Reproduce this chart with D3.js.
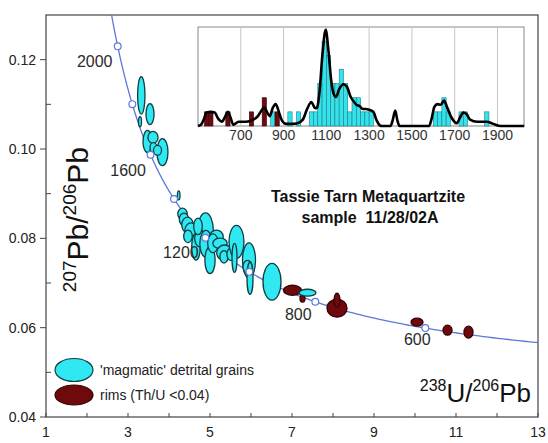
<!DOCTYPE html>
<html><head><meta charset="utf-8">
<script src="https://cdn.jsdelivr.net/npm/d3@7"></script>
<style>body{margin:0;background:#fff}svg{display:block}text{font-family:"Liberation Sans",Arial,sans-serif}</style>
</head><body><svg id="c" width="548" height="443"></svg>
<script>
// ---- data ----
const xTicks = [1,2,3,4,5,6,7,8,9,10,11,12,13];
const xTickLabels = [1,3,5,7,9,11,13];
const yTicks = [0.04,0.05,0.06,0.07,0.08,0.09,0.10,0.11,0.12];
const yTickLabels = [0.04,0.06,0.08,0.10,0.12];
const markerAges = [600,800,1000,1200,1400,1600,1800,2000];
const labelAges = [600,800,1200,1600,2000];
// magmatic detrital grains: [238U/206Pb, 207Pb/206Pb, semi-axis x, semi-axis y]
const magmatic = [
 [3.324,0.1120,0.090,0.00418],[3.537,0.1078,0.098,0.00235],[3.293,0.1061,0.037,0.00112],
 [3.476,0.1017,0.110,0.00246],[3.610,0.1026,0.122,0.00134],[3.841,0.0993,0.134,0.00302],
 [3.622,0.1003,0.085,0.00112],[3.720,0.0997,0.098,0.00112],[4.237,0.0896,0.032,0.00101],
 [4.329,0.08548,0.115,0.00128],[4.366,0.08425,0.115,0.00140],[4.451,0.08302,0.140,0.00175],
 [4.537,0.08179,0.150,0.00165],[4.890,0.08179,0.190,0.0039],[4.659,0.07810,0.105,0.0030],
 [4.756,0.08000,0.130,0.00190],[4.902,0.07877,0.150,0.0030],[5.000,0.07508,0.125,0.0030],
 [5.159,0.08034,0.165,0.00150],[5.073,0.07888,0.130,0.00210],[5.244,0.07888,0.175,0.00118],
 [4.463,0.08045,0.105,0.00140],[4.707,0.08268,0.105,0.00185],
 [5.354,0.07676,0.190,0.00175],[5.341,0.07587,0.100,0.00140],[5.512,0.07642,0.100,0.00140],
 [5.646,0.07922,0.183,0.00369],[5.598,0.07564,0.061,0.00324],[5.951,0.07508,0.159,0.00391],
 [5.915,0.07363,0.110,0.00145],[5.976,0.07106,0.073,0.00358],[6.512,0.07028,0.220,0.00413],
 [7.378,0.06782,0.207,0.00078]
];
// metamorphic rims (Th/U < 0.04)
const rims = [
 [7.012,0.06838,0.220,0.00112],[7.256,0.06648,0.061,0.00078],[8.098,0.06436,0.244,0.00201],
 [8.098,0.06615,0.073,0.00156],[10.049,0.06123,0.146,0.00089],[10.793,0.05944,0.110,0.00112],
 [11.305,0.05899,0.110,0.00134]
];
// inset histogram (bin start age, count), 20 Ma bins
const histMagmatic = [[840,1],[920,1],[960,1],[1020,1],[1040,1],[1060,3],[1080,6],[1100,5],[1120,3],[1140,3],[1160,4],[1180,3],[1200,1],[1220,2],[1240,2],[1260,1],[1280,1],[1300,1],[1600,1],[1620,1],[1640,2],[1660,1],[1720,1],[1740,1],[1840,1]];
const histRims = [[530,1],[550,1],[630,1],[740,1],[800,2],[860,1]];
// probability density curve (age, relative probability)
const probCurve = [[500,0],[515,0.1],[528,0.5],[540,0.95],[560,1.0],[578,0.95],[595,0.5],[612,0.3],[628,0.7],[640,1.0],[652,0.6],[665,0.1],[690,0.3],[720,0.3],[750,0.4],[780,0.7],[797,1.1],[810,1.3],[822,1.0],[835,0.7],[850,1.3],[863,1.55],[878,1.0],[892,0.4],[912,0.15],[940,0.15],[965,0.2],[990,0.45],[1010,1.2],[1030,1.7],[1045,1.3],[1055,1.25],[1068,2.4],[1082,5.1],[1097,6.8],[1110,5.3],[1122,3.3],[1132,2.4],[1145,2.05],[1160,2.6],[1180,2.95],[1195,2.8],[1214,2.05],[1230,1.7],[1240,1.5],[1256,1.4],[1270,1.2],[1285,1.2],[1300,1.15],[1320,1.0],[1335,0.4],[1350,0.05],[1360,0],[1400,0],[1410,0.4],[1422,1.1],[1432,0.4],[1442,0],[1580,0],[1592,0.5],[1605,1.35],[1620,1.55],[1635,1.5],[1650,1.8],[1665,1.3],[1685,0.6],[1710,0.2],[1725,0.6],[1740,0.95],[1755,0.85],[1772,0.45],[1805,0.3],[1850,0.3],[1880,0.15],[1915,0],[2025,0]];
const insetTicks = [700,900,1100,1300,1500,1700,1900];
const binWidth = 20;
// decay constants
const L238 = 1.55125e-10, L235 = 9.8485e-10, U85 = 137.88;

// ---- drawing ----
const svg = d3.select('#c');
const x = d3.scaleLinear().domain([1,13]).range([46,538]);
const y = d3.scaleLinear().domain([0.04,0.13]).range([417,15]);
const tw = t => { const a = Math.exp(L238*t*1e6)-1, b = Math.exp(L235*t*1e6)-1; return [1/a, b/a/U85]; };

svg.append('clipPath').attr('id','pc').append('rect')
  .attr('x',46).attr('y',15).attr('width',492).attr('height',402);

// frame
svg.append('rect').attr('x',46).attr('y',15).attr('width',492).attr('height',402)
  .attr('fill','none').attr('stroke','#444').attr('stroke-width',1.2);

// y ticks
yTicks.forEach(v=>{
  const major = yTickLabels.some(l=>Math.abs(l-v)<1e-9);
  svg.append('line').attr('x1',major?40:46).attr('x2',major?46:51)
    .attr('y1',y(v)).attr('y2',y(v)).attr('stroke','#444').attr('stroke-width',1);
  if(major) svg.append('text').attr('x',36).attr('y',y(v)+5).attr('text-anchor','end')
    .attr('font-size',14).attr('fill','#222').text(d3.format('.2f')(v));
});
xTicks.forEach(v=>{
  svg.append('line').attr('x1',x(v)).attr('x2',x(v)).attr('y1',417).attr('y2',413)
    .attr('stroke','#444').attr('stroke-width',1);
  if(xTickLabels.includes(v)) svg.append('text').attr('x',x(v)).attr('y',437)
    .attr('text-anchor','middle').attr('font-size',14).attr('fill','#222').text(v);
});

// concordia
const ages = d3.range(470,2200,5);
const line = d3.line().x(d=>x(tw(d)[0])).y(d=>y(tw(d)[1])).curve(d3.curveLinear);
const gp = svg.append('g').attr('clip-path','url(#pc)');
gp.append('path').attr('d',line(ages)).attr('fill','none').attr('stroke','#5b78db').attr('stroke-width',1.3);

// age labels (drawn under ellipses)
const labOff = {2000:[-23,20.5],1600:[-22.5,21.5],1200:[-24.5,20],800:[-17,18],600:[-8,16.5]};
labelAges.forEach(a=>{
  const p = tw(a);
  svg.append('text').attr('x',x(p[0])+labOff[a][0]).attr('y',y(p[1])+labOff[a][1])
    .attr('text-anchor','middle').attr('font-size',16).attr('fill','#2a2a2a').text(a);
});

function ell(g, d, fill, stroke){
  g.selectAll(null).data(d).enter().append('ellipse')
    .attr('cx',e=>x(e[0])).attr('cy',e=>y(e[1]))
    .attr('rx',e=>x(e[0]+e[2])-x(e[0])).attr('ry',e=>y(e[1])-y(e[1]+e[3]))
    .attr('fill',fill).attr('stroke',stroke).attr('stroke-width',1.3);
}
ell(gp, rims, '#6e0a0c', '#360204');
ell(gp, magmatic, '#2fe8f2', '#0e3f42');

// markers
markerAges.forEach(a=>{
  const p = tw(a);
  gp.append('circle').attr('cx',x(p[0])).attr('cy',y(p[1])).attr('r',3.4)
    .attr('fill','#fff').attr('stroke','#5b78db').attr('stroke-width',1.2);
});

// title
svg.append('text').attr('x',368).attr('y',202).attr('text-anchor','middle').attr('font-size',16)
  .attr('font-weight','bold').attr('fill','#111').text('Tassie Tarn Metaquartzite');
svg.append('text').attr('x',370).attr('y',223).attr('text-anchor','middle').attr('font-size',16)
  .attr('font-weight','bold').attr('fill','#111').attr('xml:space','preserve').text('sample  11/28/02A');

// axis labels
const yl = svg.append('text').attr('transform','translate(88,147) rotate(-90)')
  .attr('text-anchor','end').attr('fill','#111');
yl.append('tspan').attr('font-size',19).attr('dy',-12).text('207');
yl.append('tspan').attr('font-size',30).attr('dy',12).text('Pb/');
yl.append('tspan').attr('font-size',19).attr('dy',-12).text('206');
yl.append('tspan').attr('font-size',30).attr('dy',12).text('Pb');

const xl = svg.append('text').attr('x',531).attr('y',402).attr('text-anchor','end').attr('fill','#111');
xl.append('tspan').attr('font-size',16).attr('dy',-11).text('238');
xl.append('tspan').attr('font-size',26).attr('dy',11).text('U/');
xl.append('tspan').attr('font-size',16).attr('dy',-11).text('206');
xl.append('tspan').attr('font-size',26).attr('dy',11).text('Pb');

// legend
svg.append('ellipse').attr('cx',74).attr('cy',370).attr('rx',19).attr('ry',11.5)
  .attr('fill','#2fe8f2').attr('stroke','#0e3f42').attr('stroke-width',1.2);
svg.append('ellipse').attr('cx',74).attr('cy',395).attr('rx',19).attr('ry',10)
  .attr('fill','#6e0a0c').attr('stroke','#360204').attr('stroke-width',1.2);
svg.append('text').attr('x',100).attr('y',375).attr('font-size',14).attr('fill','#222').text("'magmatic' detrital grains");
svg.append('text').attr('x',100).attr('y',400).attr('font-size',14).attr('fill','#222').text('rims (Th/U <0.04)');

// ---- inset ----
const ix = d3.scaleLinear().domain([500,2024]).range([198,524]);
const iy = d3.scaleLinear().domain([0,7]).range([126,27]);
const gi = svg.append('g');
gi.append('rect').attr('x',198).attr('y',27).attr('width',326).attr('height',99)
  .attr('fill','#fff').attr('stroke','#888').attr('stroke-width',1);
insetTicks.forEach(t=>{
  gi.append('line').attr('x1',ix(t)).attr('x2',ix(t)).attr('y1',27).attr('y2',126)
    .attr('stroke','#c4c4c4').attr('stroke-width',1);
  gi.append('text').attr('x',ix(t)).attr('y',140).attr('text-anchor','middle')
    .attr('font-size',14).attr('fill','#333').text(t);
});
function bars(d, fill, stroke){
  gi.selectAll(null).data(d).enter().append('rect')
    .attr('x',b=>ix(b[0])).attr('width',b=>ix(b[0]+binWidth)-ix(b[0]))
    .attr('y',b=>iy(b[1])).attr('height',b=>iy(0)-iy(b[1]))
    .attr('fill',fill).attr('stroke',stroke).attr('stroke-width',0.6);
}
bars(histMagmatic,'#35e2ec','#1a7f86');
bars(histRims,'#6e0a12','#3a0206');
gi.append('path').attr('d',d3.line().x(d=>ix(d[0])).y(d=>iy(d[1])).curve(d3.curveMonotoneX)(probCurve))
  .attr('fill','none').attr('stroke','#000').attr('stroke-width',2.6).attr('stroke-linejoin','round');
</script></body></html>
